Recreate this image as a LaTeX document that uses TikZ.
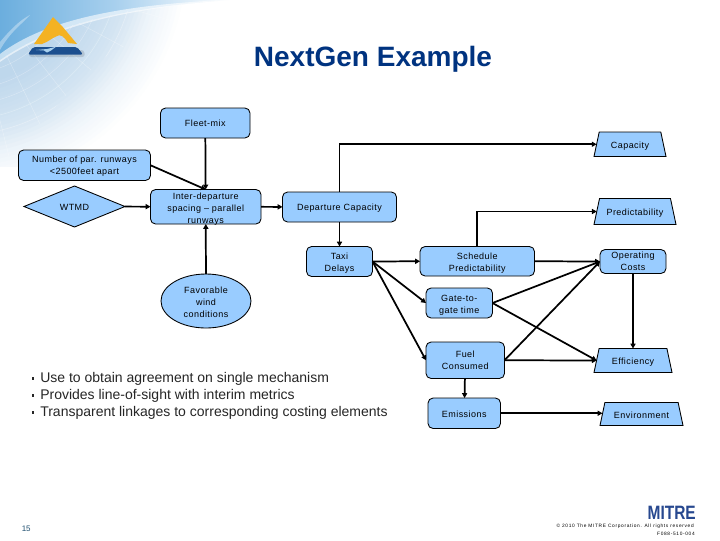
\documentclass[tikz,border=0pt]{standalone}
\usepackage{fontspec}
\usepackage{graphicx}
\setmainfont{Liberation Sans}
\newfontfamily\dgmfont[LetterSpace=5]{Liberation Sans}
\newfontfamily\tinyfont[LetterSpace=14]{Liberation Sans}
\usetikzlibrary{shapes.geometric,arrows.meta}
\definecolor{boxblue}{HTML}{99CCFF}
\definecolor{titleblue}{HTML}{003380}
\definecolor{skyA}{HTML}{6BAEDE}
\definecolor{skyB}{HTML}{A8D0EE}
\definecolor{paleA}{HTML}{BED7EC}
\definecolor{logoY}{HTML}{F4B223}
\definecolor{logoN}{HTML}{1C4F8F}
\definecolor{mitreblue}{HTML}{27488F}
\definecolor{pagenum}{HTML}{1F4F6F}
\newcommand{\firstline}[1]{\rule{0pt}{#1pt}}
\tikzset{
  wh/.style 2 args={minimum width=#1*0.75pt,minimum height=#2*0.75pt},
  item/.style={draw=black,line width=0.65pt,fill=boxblue,inner sep=0pt,outer sep=0pt,align=center,
     font=\dgmfont\fontsize{6.75}{9}\selectfont,execute at begin node={\rule{0pt}{6pt}}},
  rbox/.style={item,rectangle,rounded corners=3.8pt},
  trap/.style 2 args={item,trapezium,trapezium stretches body,trapezium left angle=78,trapezium right angle=78,
     minimum width=#1*0.75pt,inner ysep={(#2*0.75pt-7pt)/2},text height=6.5pt,text depth=0.5pt},
  link/.style={line width=1.3pt,-{Triangle[length=3.6pt,width=3.8pt]}},
  bullet/.style={anchor=west,inner sep=0pt,font=\fontsize{10.5}{12}\selectfont,text=black!85},
  bulletmark/.style={fill=black!85,inner sep=0pt,minimum size=2pt},
}
\begin{document}
\begin{tikzpicture}[x=0.75pt,y=-0.75pt]
\useasboundingbox (0,0) rectangle (720,540);
% ---- background
\begin{scope}
\clip (0,0) rectangle (720,540);
\fill[white] (0,0) rectangle (720,540);
\begin{scope}
\clip (0,0) rectangle (260,166);
\foreach \r in {230,226,...,126}{
  \pgfmathsetmacro{\p}{\r>200 ? (230-\r)/30*26 : (\r>172 ? 26+(200-\r)/28*40 : 66+(172-\r)/46*34)}
  \fill[paleA!\p!white] (-40,-40) circle (\r);
}
\end{scope}
\shade[left color=skyA,right color=white,middle color=skyB]
  (0,0) -- (230,0) .. controls (120,8) and (50,25) .. (0,60) -- cycle;
\begin{scope}
\clip (0,60) .. controls (50,25) and (120,8) .. (210,0) -- (100,60) -- (0,166) -- cycle;
\foreach \r in {70,85,...,175}
  \draw[white,opacity=.3,line width=.4pt] (-40,-40) circle (\r);
\foreach \a in {-8,4,...,100}
  \draw[white,opacity=.3,line width=.4pt] (-40,-40) -- ++(\a:300);
\end{scope}
\fill[white,opacity=.6] (0,62) .. controls (50,27) and (120,10) .. (225,0)
   .. controls (120,5) and (45,20) .. (0,54) -- cycle;
\fill[white,opacity=.35] (0,42) .. controls (10,30) and (20,20) .. (30,15)
   .. controls (22,24) and (10,32) .. (0,50) -- cycle;
\end{scope}
% ---- logo
\fill[logoY] (53,17) -- (62,26) -- (77,44) -- (68,43) .. controls (64,36) and (60,34) .. (57,36)
   .. controls (52,38) and (48,42) .. (42,44) -- (34,44) -- cycle;
\fill[black,opacity=.12,rounded corners=2pt] (29,50) -- (84,50) -- (85,57) -- (29,57) -- cycle;
\fill[logoN,rounded corners=1.5pt] (33,47) -- (77,47) -- (83,54.5) -- (28,54.5) -- cycle;
\fill[skyB] (36,50) -- (47,49) -- (56,46.8) -- (51,50.5) -- (47,52.5) -- (44,50.5) -- cycle;
% ---- title
\node[inner sep=0pt,text=titleblue,font=\bfseries\fontsize{21}{24}\selectfont] (title) at (373,59) {NextGen Example};
% ---- nodes
\node[rbox,wh={89.5}{30}] (fleet) at (205.25,123) {Fleet-mix};
\node[rbox,wh={132}{30.5}] (num) at (84.5,165.25) {\firstline{6.4}Number of par. runways\\<2500feet apart};
\node[item,diamond,aspect=2.46,wh={101}{41}] (wtmd) at (74.5,206.5) {WTMD};
\node[rbox,wh={110.5}{34.5}] (inter) at (205.75,206.75) {\raisebox{-3.3pt}[12pt][12pt]{\begin{tabular}{@{}c@{}}Inter-departure\\spacing – parallel\\runways\end{tabular}}};
\node[rbox,wh={114}{30}] (dep) at (339.5,207) {Departure Capacity};
\node[rbox,wh={66}{30}] (taxi) at (339.5,261.5) {\firstline{8}Taxi\\Delays};
\node[item,ellipse,wh={90}{54}] (fav) at (206,301) {\firstline{7}Favorable\\wind\\conditions};
\node[rbox,wh={114.5}{29.5}] (sched) at (477.25,261.25) {\firstline{7.5}Schedule\\Predictability};
\node[rbox,wh={66.5}{30}] (gate) at (459.25,303) {\firstline{7.5}Gate-to-\\gate time};
\node[rbox,wh={78.5}{36.5}] (fuel) at (465.25,360.25) {Fuel\\Consumed};
\node[rbox,wh={72.5}{30.5}] (emis) at (464.25,413.25) {Emissions};
\node[trap={72}{24.5}] (cap) at (630,144.25) {Capacity};
\node[trap={82}{26}] (pred) at (635,211.5) {Predictability};
\node[rbox,wh={66}{24}] (oper) at (633,261.5) {Operating\\Costs};
\node[trap={78}{24}] (eff) at (633,360.5) {Efficiency};
\node[trap={83}{23}] (env) at (641.5,414) {Environment};
% ---- connectors
\draw[link] (fleet) -- (inter);
\draw[link] (num.east) -- (inter.north);
\draw[link] (wtmd) -- (inter);
\draw[link] (fav) -- (inter);
\draw[link] (inter) -- (dep);
\draw[link] (dep.north) |- (cap.west);
\draw[link] (dep) -- (taxi);
\draw[link] (taxi.east) -- (sched.west);
\draw[link] (taxi.east) -- (gate.west);
\draw[link] (taxi.east) -- (fuel.west);
\draw[link] (sched.north) |- (pred.west);
\draw[link] (sched.east) -- (oper.west);
\draw[link] (gate.east) -- (oper.west);
\draw[link] (fuel.east) -- (oper.west);
\draw[link] (oper) -- (eff);
\draw[link] (gate.east) -- (eff.west);
\draw[link] (fuel.east) -- (eff.west);
\draw[link] (fuel) -- (emis);
\draw[link] (emis.east) -- (emis.east -| env.west);
% ---- bullet text
\node[bulletmark] (b1) at (33,378.5) {};
\node[bullet] (t1) at (40,379) {Use to obtain agreement on single mechanism};
\node[bulletmark] (b2) at (33,395.5) {};
\node[bullet] (t2) at (40,396) {Provides line-of-sight with interim metrics};
\node[bulletmark] (b3) at (33,412.5) {};
\node[bullet] (t3) at (40,413) {Transparent linkages to corresponding costing elements};
% ---- footer
\node[inner sep=0pt,anchor=west,text=pagenum,font=\fontsize{6}{7}\selectfont] (pageno) at (21.5,528.5) {15};
\node[inner sep=0pt,anchor=east,text=mitreblue,font=\bfseries\fontsize{14.5}{15}\selectfont] (mitre) at (696,512.5) {\scalebox{0.8}[1]{MITRE}};
\node[inner sep=0pt,anchor=east,font=\tinyfont\fontsize{3.6}{4}\selectfont] (copy) at (694,526) {© 2010 The MITRE Corporation. All rights reserved};
\node[inner sep=0pt,anchor=east,font=\tinyfont\fontsize{3.6}{4}\selectfont] (code) at (695,533.5) {F088-510-004};
\end{tikzpicture}
\end{document}
